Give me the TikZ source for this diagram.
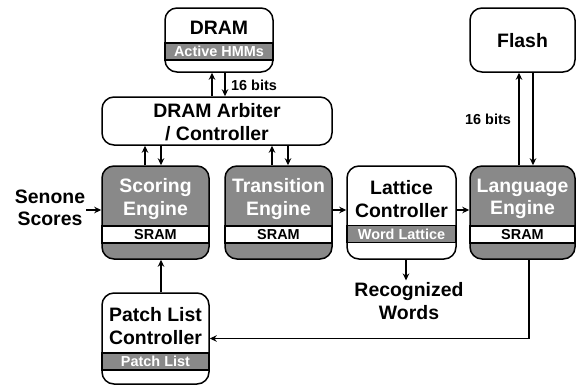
\documentclass[tikz,border=0pt]{standalone}
\usepackage{fontspec}
\setmainfont{Liberation Sans}
\usetikzlibrary{arrows.meta}
\definecolor{blockgray}{RGB}{137,137,137}
\tikzset{
  big/.style={font=\fontsize{19.5}{22.5}\selectfont\bfseries, align=center, inner sep=1bp},
  small/.style={font=\fontsize{14.5}{16}\selectfont\bfseries, inner sep=0pt},
  blk/.style={draw, line width=1.5bp, rounded corners=12bp, inner sep=0pt},
  whiteblk/.style={blk, fill=white},
  grayblk/.style={blk, fill=blockgray},
  band/.style={small, draw, line width=1.5bp, rectangle, minimum height=17bp},
  whiteband/.style={band, fill=white, text=black},
  grayband/.style={band, fill=blockgray, text=white},
  arr/.style={line width=1.6bp, -{Stealth[length=7bp,width=6.5bp]}},
  wire/.style={line width=1.6bp}
}
\begin{document}
\begin{tikzpicture}[x=1bp, y=-1bp]
\useasboundingbox (0,0) rectangle (576,385);

% memories and arbiter
\node[whiteblk, minimum width=108bp, minimum height=64bp] (dram) at (219,40) {};
\node[grayband, minimum width=108bp] (dramband) at (219,51.5) {Active HMMs};
\node[big] (dramtitle) at (219,28) {DRAM};

\node[whiteblk, minimum width=105bp, minimum height=64bp] (flash) at (522.5,40) {};
\node[big] (flashtitle) at (522.5,41) {Flash};

\node[whiteblk, minimum width=230bp, minimum height=48bp] (arb) at (217,121) {};
\node[big] (arbtitle) at (217,122) {DRAM Arbiter\\/ Controller};

% engines
\node[grayblk, minimum width=107bp, minimum height=93bp] (sc) at (155.5,212.5) {};
\node[whiteband, minimum width=107bp] (scband) at (155.5,234.5) {SRAM};
\node[big, text=white] (sctitle) at (155.5,199) {Scoring\\Engine};

\node[grayblk, minimum width=107bp, minimum height=93bp] (tr) at (278.5,212.5) {};
\node[whiteband, minimum width=107bp] (trband) at (278.5,234.5) {SRAM};
\node[big, text=white] (trtitle) at (278.5,199) {Transition\\Engine};

\node[whiteblk, minimum width=109bp, minimum height=93bp] (lat) at (401.5,212.5) {};
\node[grayband, minimum width=109bp] (latband) at (401.5,234) {Word Lattice};
\node[big] (lattitle) at (401.5,199) {Lattice\\Controller};

\node[grayblk, minimum width=105bp, minimum height=93bp] (lang) at (522.5,212.5) {};
\node[whiteband, minimum width=105bp] (langband) at (522.5,234.5) {SRAM};
\node[big, text=white] (langtitle) at (522.5,199) {Language\\Engine};

\node[whiteblk, minimum width=107bp, minimum height=91bp] (pl) at (155.5,338.5) {};
\node[grayband, minimum width=107bp] (plband) at (155.5,361.5) {Patch List};
\node[big] (pltitle) at (155.5,326) {Patch List\\Controller};

% free labels
\node[big] (sen) at (50,208) {Senone\\Scores};
\node[big, inner sep=2bp] (rec) at (409,301) {Recognized\\Words};
\node[small] (bitsd) at (254,85) {16 bits};
\node[small] (bitsf) at (488,119) {16 bits};

% DRAM <-> arbiter
\draw[arr] ([xshift=-7bp]dram.south |- arb.north) -- ([xshift=-7bp]dram.south);
\draw[arr] ([xshift=6bp]dram.south) -- ([xshift=6bp]dram.south |- arb.north);

% arbiter <-> engines
\draw[arr] ([xshift=-10.5bp]sc.north) -- ([xshift=-10.5bp]sc.north |- arb.south);
\draw[arr] ([xshift=5.5bp]sc.north |- arb.south) -- ([xshift=5.5bp]sc.north);
\draw[arr] ([xshift=-6.5bp]tr.north) -- ([xshift=-6.5bp]tr.north |- arb.south);
\draw[arr] ([xshift=9.5bp]tr.north |- arb.south) -- ([xshift=9.5bp]tr.north);

% Flash <-> language engine
\draw[arr] ([xshift=-3.5bp]lang.north) -- ([xshift=-3.5bp]lang.north |- flash.south);
\draw[arr] ([xshift=10.5bp]flash.south) -- ([xshift=10.5bp]flash.south |- lang.north);

% data path
\draw[arr] (sen.east |- 0,210) -- (sc.west |- 0,210);
\draw[arr] ([yshift=2.5bp]tr.east) -- ([yshift=2.5bp]tr.east -| lat.west);
\draw[arr] ([yshift=2.5bp]lat.east) -- ([yshift=2.5bp]lat.east -| lang.west);
\draw[arr] ([xshift=4.5bp]lat.south) -- ([xshift=4.5bp]lat.south |- rec.north);
\draw[arr] ([xshift=5.5bp]pl.north) -- ([xshift=5.5bp]pl.north |- sc.south);
\draw[arr] ([xshift=6.5bp]lang.south) |- (pl.east);
\end{tikzpicture}
\end{document}
